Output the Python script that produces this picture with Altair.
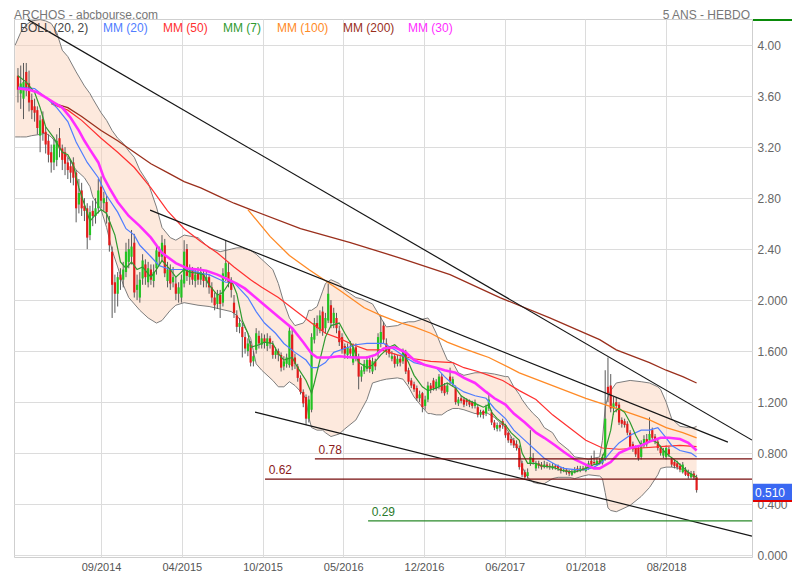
import altair as alt
import numpy as np
import pandas as pd

# ---------------- data ----------------
START = pd.Timestamp("2014-02-14")  # first weekly candle (index 0), one candle per week

OPEN = [3.76,3.62,3.58,3.79,3.70,3.57,3.52,3.49,3.29,3.42,
        3.32,3.25,3.16,3.08,3.10,3.27,3.19,3.16,3.08,3.05,
        3.08,3.00,2.75,2.86,2.74,2.72,2.51,2.70,2.66,2.72,
        2.89,2.76,2.77,2.61,2.38,2.14,2.05,2.20,2.16,2.22,
        2.30,2.34,2.45,2.08,2.02,2.17,2.28,2.14,2.24,2.15,
        2.25,2.38,2.34,2.43,2.15,2.24,2.14,2.13,2.05,2.02,
        2.13,2.40,2.18,2.24,2.15,2.22,2.16,2.20,2.15,2.18,
        2.10,2.02,1.97,2.04,1.98,2.18,2.22,2.14,1.98,1.88,
        1.79,1.79,1.71,1.60,1.65,1.52,1.61,1.72,1.65,1.70,
        1.64,1.70,1.65,1.57,1.60,1.57,1.48,1.50,1.49,1.73,
        1.55,1.48,1.39,1.28,1.24,1.07,1.14,1.69,1.82,1.76,
        1.91,1.78,1.84,1.96,1.82,1.86,1.76,1.71,1.64,1.57,
        1.62,1.51,1.63,1.55,1.40,1.44,1.46,1.53,1.44,1.52,
        1.58,1.66,1.80,1.66,1.62,1.54,1.56,1.50,1.54,1.52,
        1.59,1.45,1.37,1.34,1.31,1.23,1.27,1.17,1.22,1.33,
        1.37,1.31,1.32,1.40,1.33,1.28,1.40,1.34,1.31,1.19,
        1.23,1.22,1.22,1.21,1.20,1.17,1.16,1.10,1.13,1.11,
        1.15,1.12,1.04,0.99,1.02,1.05,1.02,0.96,0.91,0.90,
        0.87,0.84,0.72,0.65,0.62,0.72,0.76,0.68,0.72,0.71,
        0.69,0.71,0.70,0.68,0.70,0.70,0.68,0.66,0.67,0.66,
        0.63,0.65,0.68,0.66,0.68,0.66,0.68,0.74,0.73,0.71,
        0.74,0.72,0.76,1.32,1.33,1.15,1.20,1.18,1.06,1.05,
        1.03,0.96,0.87,0.84,0.84,0.77,0.86,0.91,0.90,0.98,
        0.93,0.89,0.84,0.78,0.77,0.83,0.75,0.73,0.72,0.70,
        0.65,0.67,0.65,0.61,0.64,0.61]
HIGH = [3.82,3.84,3.86,3.86,3.80,3.62,3.58,3.52,3.45,3.48,
        3.36,3.30,3.22,3.26,3.30,3.35,3.22,3.20,3.12,3.10,
        3.12,3.02,2.95,2.92,2.80,2.76,2.74,2.78,2.80,2.95,
        2.97,2.85,2.82,2.66,2.42,2.20,2.22,2.25,2.30,2.45,
        2.48,2.55,2.52,2.20,2.22,2.36,2.32,2.30,2.28,2.28,
        2.44,2.42,2.51,2.48,2.30,2.28,2.26,2.18,2.14,2.20,
        2.47,2.44,2.28,2.26,2.25,2.26,2.26,2.24,2.22,2.20,
        2.14,2.06,2.08,2.08,2.25,2.47,2.30,2.18,2.04,1.92,
        1.86,1.82,1.75,1.70,1.68,1.60,1.78,1.76,1.74,1.73,
        1.74,1.72,1.68,1.63,1.62,1.59,1.56,1.58,1.80,1.78,
        1.58,1.50,1.41,1.30,1.26,1.25,1.74,1.86,1.88,1.92,
        1.95,1.90,2.13,2.00,1.94,1.90,1.80,1.74,1.66,1.66,
        1.68,1.66,1.66,1.58,1.48,1.53,1.56,1.55,1.55,1.54,
        1.74,1.88,1.83,1.70,1.64,1.60,1.58,1.57,1.56,1.62,
        1.61,1.47,1.39,1.36,1.33,1.29,1.28,1.25,1.36,1.35,
        1.39,1.38,1.42,1.42,1.35,1.35,1.47,1.40,1.33,1.24,
        1.25,1.24,1.23,1.22,1.21,1.22,1.18,1.14,1.14,1.18,
        1.26,1.14,1.06,1.04,1.04,1.07,1.03,0.97,0.93,0.92,
        0.90,0.86,0.74,0.67,0.68,0.98,0.80,0.74,0.74,0.73,
        0.74,0.73,0.72,0.72,0.71,0.71,0.69,0.69,0.68,0.67,
        0.67,0.69,0.70,0.70,0.70,0.71,0.74,0.78,0.82,0.76,
        0.76,0.79,1.45,1.55,1.42,1.24,1.24,1.20,1.08,1.07,
        1.05,0.98,0.89,0.86,0.86,0.90,0.94,0.95,1.08,1.00,
        0.95,0.91,0.86,0.84,0.86,0.85,0.77,0.75,0.74,0.72,
        0.73,0.69,0.67,0.66,0.66,0.63]
LOW = [3.55,3.50,3.42,3.60,3.48,3.42,3.40,3.30,3.16,3.25,
       3.15,3.08,3.00,3.02,3.05,3.12,3.02,2.98,2.95,2.92,
       2.90,2.61,2.68,2.66,2.62,2.40,2.47,2.58,2.60,2.68,
       2.72,2.70,2.60,2.38,1.86,1.90,1.95,2.08,2.10,2.18,
       2.25,2.28,2.02,2.00,1.98,2.12,2.12,2.10,2.12,2.10,
       2.20,2.28,2.30,2.18,2.10,2.08,2.10,2.00,1.98,1.98,
       2.10,2.15,2.12,2.12,2.10,2.12,2.12,2.10,2.10,2.05,
       1.98,1.92,1.93,1.86,1.95,2.15,2.10,2.02,1.86,1.75,
       1.74,1.55,1.58,1.56,1.48,1.48,1.58,1.62,1.62,1.62,
       1.60,1.62,1.54,1.54,1.52,1.44,1.45,1.47,1.47,1.45,
       1.46,1.36,1.26,1.16,1.02,1.04,1.12,1.66,1.72,1.74,
       1.72,1.74,1.82,1.78,1.78,1.74,1.64,1.58,1.54,1.54,
       1.55,1.49,1.52,1.30,1.36,1.42,1.44,1.43,1.42,1.45,
       1.55,1.63,1.66,1.57,1.55,1.52,1.47,1.48,1.48,1.50,
       1.42,1.34,1.31,1.28,1.21,1.20,1.12,1.14,1.20,1.27,
       1.29,1.29,1.30,1.27,1.25,1.26,1.34,1.32,1.18,1.17,
       1.19,1.16,1.17,1.16,1.15,1.15,1.08,1.08,1.07,1.09,
       1.13,1.02,0.98,0.97,0.97,0.99,0.92,0.88,0.86,0.84,
       0.82,0.67,0.61,0.59,0.60,0.70,0.71,0.66,0.68,0.67,
       0.68,0.68,0.67,0.67,0.67,0.66,0.64,0.65,0.63,0.62,
       0.62,0.64,0.65,0.65,0.66,0.65,0.67,0.70,0.71,0.70,
       0.71,0.71,0.74,1.20,1.12,1.10,1.12,1.02,1.00,1.00,
       0.94,0.83,0.81,0.77,0.74,0.75,0.84,0.85,0.88,0.90,
       0.87,0.82,0.78,0.76,0.75,0.77,0.69,0.68,0.67,0.65,
       0.64,0.62,0.60,0.60,0.59,0.49]
CLOSE = [3.65,3.70,3.71,3.66,3.55,3.49,3.47,3.35,3.41,3.31,
         3.22,3.14,3.08,3.22,3.25,3.19,3.10,3.07,3.02,3.00,
         2.96,2.72,2.84,2.72,2.70,2.49,2.69,2.66,2.72,2.86,
         2.78,2.80,2.69,2.43,2.12,2.05,2.18,2.16,2.24,2.38,
         2.40,2.42,2.06,2.12,2.16,2.31,2.18,2.25,2.16,2.22,
         2.39,2.34,2.45,2.21,2.24,2.13,2.18,2.05,2.10,2.16,
         2.38,2.19,2.24,2.16,2.20,2.16,2.22,2.15,2.18,2.10,
         2.02,1.96,2.04,1.97,2.21,2.29,2.14,2.08,1.90,1.79,
         1.82,1.71,1.62,1.66,1.51,1.56,1.74,1.66,1.70,1.67,
         1.70,1.66,1.57,1.60,1.57,1.47,1.52,1.55,1.76,1.48,
         1.50,1.39,1.28,1.19,1.07,1.22,1.71,1.82,1.78,1.88,
         1.76,1.86,2.05,1.82,1.90,1.78,1.67,1.61,1.58,1.63,
         1.58,1.63,1.55,1.40,1.45,1.50,1.53,1.46,1.52,1.48,
         1.71,1.75,1.69,1.60,1.58,1.56,1.50,1.54,1.51,1.59,
         1.44,1.36,1.33,1.30,1.23,1.26,1.16,1.22,1.33,1.30,
         1.31,1.36,1.40,1.29,1.27,1.33,1.36,1.38,1.20,1.22,
         1.21,1.18,1.20,1.18,1.17,1.20,1.10,1.12,1.10,1.16,
         1.22,1.04,1.00,1.02,1.00,1.02,0.94,0.90,0.88,0.86,
         0.84,0.69,0.63,0.61,0.65,0.77,0.73,0.72,0.70,0.69,
         0.71,0.70,0.69,0.70,0.69,0.68,0.66,0.67,0.65,0.64,
         0.65,0.67,0.66,0.68,0.67,0.69,0.72,0.71,0.72,0.74,
         0.72,0.77,1.07,1.27,1.15,1.19,1.17,1.04,1.03,1.02,
         0.96,0.85,0.83,0.79,0.76,0.88,0.91,0.87,0.95,0.92,
         0.89,0.84,0.80,0.82,0.84,0.79,0.71,0.70,0.69,0.67,
         0.71,0.63,0.62,0.64,0.61,0.51]

# moving averages, read at selected weeks (week index, value)
MM7_IDX = [0,3,6,8,10,13,16,18,20,22,24,26,28,30,32,35,37,39,41,43,45,48,50,52,55,57,60,62,65,67,
           69,72,74,77,79,81,83,84,87,89,92,94,96,99,101,104,106,107,109,111,113,116,118,121,123,126,128,131,134,136,
           139,141,143,146,148,151,153,155,158,160,162,165,168,170,171,173,176,178,181,182,184,187,189,193,197,201,205,208,210,212,
           214,215,217,219,221,223,225,227,229,231,233,235,238,240,242,245]
MM7_VAL = [3.76,3.71,3.63,3.51,3.36,3.27,3.16,3.14,3.06,2.88,2.75,2.62,2.67,2.71,2.68,2.51,2.30,2.25,2.30,2.24,
           2.26,2.18,2.24,2.31,2.24,2.18,2.24,2.22,2.21,2.20,2.12,2.04,2.06,2.16,2.05,1.84,1.74,1.63,1.65,1.67,
           1.66,1.58,1.53,1.55,1.47,1.37,1.27,1.35,1.53,1.71,1.80,1.82,1.74,1.63,1.51,1.47,1.49,1.57,1.63,1.65,
           1.59,1.51,1.41,1.32,1.29,1.31,1.33,1.35,1.31,1.25,1.22,1.19,1.16,1.18,1.12,1.07,1.02,0.96,0.90,0.80,
           0.72,0.72,0.70,0.69,0.66,0.65,0.68,0.71,0.72,0.82,0.98,1.12,1.15,1.12,1.04,0.94,0.86,0.88,0.90,0.88,
           0.82,0.78,0.73,0.69,0.65,0.61]
MM20_IDX = [0,6,10,14,18,21,25,29,32,36,39,42,44,48,51,55,58,62,66,69,73,75,78,80,83,86,89,93,96,100,
            104,106,108,111,114,118,122,126,132,136,140,143,147,151,154,158,161,165,169,172,176,179,183,187,190,194,197,201,205,208,
            211,214,217,221,225,228,231,234,236,239,243,245]
MM20_VAL = [3.67,3.66,3.59,3.51,3.40,3.24,3.08,2.96,2.82,2.69,2.56,2.51,2.43,2.34,2.27,2.24,2.24,2.24,2.21,2.20,
            2.16,2.14,2.14,2.09,2.02,1.91,1.82,1.74,1.66,1.59,1.53,1.47,1.47,1.51,1.59,1.62,1.65,1.66,1.66,1.61,
            1.55,1.51,1.49,1.47,1.40,1.32,1.28,1.25,1.23,1.15,1.07,0.98,0.90,0.82,0.76,0.71,0.68,0.67,0.67,0.69,
            0.73,0.81,0.88,0.94,0.98,0.98,1.00,0.92,0.86,0.82,0.80,0.77]
MM30_IDX = [0,4,7,10,13,16,19,22,24,26,29,31,33,36,40,44,48,52,57,61,65,68,72,75,79,82,88,94,99,103,
            106,108,112,116,121,126,129,132,136,140,143,147,151,154,158,161,165,169,172,176,179,183,187,190,194,197,201,205,208,210,
            214,217,221,225,228,232,235,239,242,245]
MM30_VAL = [3.66,3.65,3.63,3.59,3.55,3.51,3.43,3.33,3.25,3.18,3.08,2.96,2.88,2.77,2.66,2.58,2.49,2.37,2.29,2.25,
            2.24,2.23,2.20,2.17,2.13,2.09,1.98,1.87,1.78,1.67,1.58,1.55,1.55,1.56,1.55,1.55,1.57,1.62,1.63,1.59,
            1.53,1.49,1.47,1.45,1.43,1.39,1.35,1.28,1.23,1.18,1.11,1.04,0.96,0.92,0.86,0.81,0.75,0.71,0.68,0.68,
            0.73,0.80,0.84,0.86,0.89,0.92,0.92,0.91,0.88,0.82]
MM50_IDX = [12,18,23,30,36,42,48,54,60,66,72,78,84,88,94,100,106,111,116,121,126,131,137,143,149,157,161,166,170,175,
            181,187,193,199,205,211,217,225,232,239,245]
MM50_VAL = [3.54,3.49,3.41,3.27,3.16,3.04,2.88,2.70,2.56,2.46,2.37,2.26,2.16,2.10,2.02,1.92,1.82,1.74,1.70,1.65,
            1.61,1.61,1.57,1.54,1.52,1.51,1.47,1.44,1.41,1.37,1.29,1.22,1.10,1.00,0.90,0.84,0.83,0.84,0.85,0.86,0.85]
MM100_IDX = [83,91,98,105,116,125,131,137,143,149,155,161,166,170,181,193,205,216,228,234,240,245]
MM100_VAL = [2.71,2.50,2.35,2.24,2.08,1.94,1.88,1.83,1.79,1.74,1.67,1.62,1.58,1.55,1.43,1.33,1.23,1.15,1.06,1.00,0.96,0.92]
MM200_IDX = [12,18,23,30,36,42,48,54,60,66,72,78,84,102,120,138,156,174,192,210,216,228,234,240,245]
MM200_VAL = [3.55,3.51,3.44,3.33,3.25,3.16,3.07,3.00,2.93,2.88,2.82,2.76,2.71,2.56,2.45,2.33,2.20,2.02,1.86,1.69,
             1.61,1.51,1.45,1.40,1.35]

# Bollinger (20, 2) envelope
BAND_IDX = [-1,1,3,5,8,10,12,14,16,18,21,24,26,27,30,32,34,36,38,40,42,44,47,50,52,55,57,60,65,69,
            73,77,79,81,84,86,88,92,94,96,98,100,103,104,105,106,108,110,111,113,116,118,122,124,126,128,131,133,137,139,
            141,143,146,148,149,151,153,155,157,159,161,165,169,172,176,177,179,181,182,184,186,188,190,193,195,199,201,204,206,210,
            211,212,213,214,216,221,225,228,231,232,234,236,239,242,244,245]
BAND_UP = [4.00,4.10,4.16,4.19,4.20,4.19,4.17,4.10,3.96,3.91,3.79,3.68,3.62,3.58,3.47,3.41,3.33,3.27,3.23,3.17,
           3.12,3.02,2.92,2.73,2.57,2.49,2.47,2.51,2.49,2.41,2.38,2.40,2.41,2.41,2.39,2.36,2.32,2.24,2.13,1.98,
           1.86,1.80,1.82,1.85,1.92,1.92,1.95,2.07,2.13,2.16,2.13,2.08,2.02,2.01,1.99,1.97,1.86,1.79,1.80,1.82,
           1.83,1.83,1.85,1.86,1.83,1.74,1.63,1.53,1.51,1.43,1.41,1.43,1.43,1.42,1.40,1.40,1.32,1.26,1.22,1.16,
           1.11,1.07,1.00,0.96,0.89,0.82,0.77,0.76,0.75,0.77,0.90,1.16,1.24,1.29,1.35,1.37,1.36,1.35,1.32,1.30,
           1.20,1.07,1.01,1.00,1.00,1.01]
BAND_LO = [3.28,3.28,3.28,3.29,3.30,3.31,3.28,3.23,3.17,3.12,3.02,2.96,2.89,2.81,2.71,2.57,2.39,2.26,2.12,2.02,
           1.97,1.92,1.86,1.82,1.84,1.92,1.96,1.98,1.96,1.95,1.93,1.91,1.88,1.82,1.70,1.50,1.45,1.37,1.32,1.32,
           1.36,1.33,1.26,1.22,1.08,1.00,0.98,0.98,0.96,0.93,0.95,0.99,1.06,1.14,1.22,1.35,1.37,1.38,1.39,1.38,
           1.32,1.24,1.16,1.11,1.11,1.10,1.10,1.13,1.15,1.15,1.14,1.11,1.12,1.08,1.00,0.97,0.89,0.82,0.69,0.61,
           0.57,0.56,0.56,0.60,0.61,0.61,0.60,0.62,0.63,0.62,0.60,0.49,0.37,0.35,0.34,0.39,0.46,0.53,0.63,0.68,
           0.69,0.69,0.68,0.65,0.61,0.59]

# trend lines (week index / price at both ends)
TREND_I0 = [3.6, 47.7, 85.6]
TREND_V0 = [4.20, 2.706, 1.122]
TREND_I1 = [265.0, 256.3, 265.0]
TREND_V1 = [0.902, 0.886, 0.149]

# horizontal levels
LEVEL_VAL = [0.755, 0.596, 0.268]
LEVEL_I0 = [107.2, 89.2, 126.4]
LEVEL_I1 = [265.0, 265.0, 265.0]
LEVEL_TXT = ["0.78", "0.62", "0.29"]
LEVEL_COL = ["#760c0c", "#760c0c", "#2a8a2a"]
LEVEL_TXT_COL = ["#8b1a1a", "#8b1a1a", "#2a7a2a"]

LAST_PRICE = 0.51
LAST_TXT = "0.510"

Y_TICKS = [0.0, 0.4, 0.8, 1.2, 1.6, 2.0, 2.4, 2.8, 3.2, 3.6, 4.0]
X_TICK_DATES = [(2014, 9, 12), (2015, 4, 4), (2015, 10, 25), (2016, 5, 16),
                (2016, 12, 6), (2017, 6, 28), (2018, 1, 18), (2018, 8, 10)]
X_DOMAIN = [(2014, 2, 4), (2019, 3, 15)]
Y_DOMAIN = [-0.015, 4.205]

LEGEND = [("BOLL (20, 2)", "#444444"), ("MM (20)", "#4f7dff"), ("MM (50)", "#ff3030"),
          ("MM (7)", "#2f9a2f"), ("MM (100)", "#ff8a26"), ("MM (200)", "#9a2f1c"),
          ("MM (30)", "#ff2dff")]
LEGEND_PX = [6, 89, 149, 209, 263, 329, 394]

# ---------------- helpers ----------------
def to_dates(idx):
    idx = np.asarray(idx, dtype=float)
    ts = START + pd.to_timedelta(idx * 7.0, unit="D")
    return [t.strftime("%Y-%m-%dT%H:%M:%SZ") for t in ts]

def dt(t):
    return alt.DateTime(year=t[0], month=t[1], date=t[2], utc=True)

FONT = "Liberation Sans, Arial, sans-serif"
W, H = 738, 538

X_AXIS = alt.Axis(values=[dt(t) for t in X_TICK_DATES], format="%m/%Y", grid=True,
                  gridColor="#dcdcdc", gridWidth=1, ticks=False, domain=False,
                  labelColor="#555555", labelFont=FONT, labelFontSize=11,
                  labelPadding=4, title=None, labelFlush=False)
Y_AXIS = alt.Axis(orient="right", values=Y_TICKS,
                  labelExpr="datum.value > 2.05 ? format(datum.value, '.2f') : format(datum.value, '.3f')",
                  grid=True, gridColor="#dcdcdc", gridWidth=1, ticks=False, domain=False,
                  labelColor="#666666", labelFont=FONT, labelFontSize=12,
                  labelPadding=5, title=None)
X_SCALE = alt.Scale(type="utc", domain=[dt(t) for t in X_DOMAIN], padding=0, nice=False)
Y_SCALE = alt.Scale(domain=Y_DOMAIN, nice=False, zero=False, padding=0)

def X(f):
    return alt.X(f"{f}:T", scale=X_SCALE, axis=X_AXIS, title=None)

def Y(f):
    return alt.Y(f"{f}:Q", scale=Y_SCALE, axis=Y_AXIS, title=None)

# ---------------- tables ----------------
n = len(CLOSE)
candles = pd.DataFrame({
    "date": to_dates(range(n)),
    "o": OPEN, "h": HIGH, "l": LOW, "c": CLOSE,
})
candles["bot"] = candles[["o", "c"]].min(axis=1)
candles["top"] = candles[["o", "c"]].max(axis=1)
candles["dir"] = np.where(candles["c"] >= candles["o"], "up", "down")

band = pd.DataFrame({"date": to_dates(BAND_IDX), "up": BAND_UP, "lo": BAND_LO})

def ma_df(idx, val):
    return pd.DataFrame({"date": to_dates(idx), "v": val})

trends = pd.DataFrame({"d0": to_dates(TREND_I0), "v0": TREND_V0,
                       "d1": to_dates(TREND_I1), "v1": TREND_V1})
levels = pd.DataFrame({"d0": to_dates(LEVEL_I0), "d1": to_dates(LEVEL_I1),
                       "v": LEVEL_VAL, "txt": LEVEL_TXT,
                       "dl": to_dates(np.asarray(LEVEL_I0) + 1.3)})

# ---------------- layers ----------------
layers = []

layers.append(alt.Chart(band).mark_area(color="#fbcfb3", opacity=0.45, clip=True).encode(
    x=X("date"), y=Y("up"), y2="lo"))
for f in ["up", "lo"]:
    layers.append(alt.Chart(band).mark_line(color="#7d7d7d", strokeWidth=1, clip=True).encode(
        x=X("date"), y=Y(f)))

layers.append(alt.Chart(candles).mark_rule(color="#5a5a5a", strokeWidth=1, clip=True).encode(
    x=X("date"), y=Y("l"), y2="h"))
layers.append(alt.Chart(candles).mark_bar(size=2.2, clip=True).encode(
    x=X("date"), y=Y("bot"), y2="top",
    color=alt.Color("dir:N", scale=alt.Scale(domain=["up", "down"], range=["#22c422", "#e21b1b"]),
                    legend=None)))

for idx, val, col, sw in [
    (MM200_IDX, MM200_VAL, "#9a2f1c", 1.3),
    (MM100_IDX, MM100_VAL, "#ff8a26", 1.3),
    (MM50_IDX, MM50_VAL, "#ff3030", 1.2),
    (MM20_IDX, MM20_VAL, "#4f7dff", 1.2),
    (MM7_IDX, MM7_VAL, "#2f9a2f", 1.2),
    (MM30_IDX, MM30_VAL, "#ff2dff", 2.6),
]:
    layers.append(alt.Chart(ma_df(idx, val)).mark_line(color=col, strokeWidth=sw, clip=True).encode(
        x=X("date"), y=Y("v")))

layers.append(alt.Chart(trends).mark_rule(color="#151515", strokeWidth=1.2, clip=True).encode(
    x=X("d0"), y=Y("v0"), x2="d1", y2="v1"))

for i in range(len(LEVEL_VAL)):
    sub = levels.iloc[[i]]
    layers.append(alt.Chart(sub).mark_rule(color=LEVEL_COL[i], strokeWidth=1.2, clip=True).encode(
        x=X("d0"), x2="d1", y=Y("v")))
    layers.append(alt.Chart(sub).mark_text(align="left", baseline="bottom", dy=-2, fontSize=12,
                                           font=FONT, color=LEVEL_TXT_COL[i]).encode(
        x=X("dl"), y=Y("v"), text="txt:N"))

# legend row inside the plot
for (txt, col), px in zip(LEGEND, LEGEND_PX):
    layers.append(alt.Chart(pd.DataFrame({"t": [txt]})).mark_text(
        align="left", baseline="middle", fontSize=12, font=FONT, color=col).encode(
        x=alt.value(px), y=alt.value(9), text="t:N"))

# header texts (kept inside the drawing's top edge)
layers.append(alt.Chart(pd.DataFrame({"t": ["ARCHOS - abcbourse.com"]})).mark_text(
    align="left", baseline="middle", fontSize=12, font=FONT, color="#777777").encode(
    x=alt.value(0), y=alt.value(-4.5), text="t:N"))
layers.append(alt.Chart(pd.DataFrame({"t": ["5 ANS - HEBDO"]})).mark_text(
    align="right", baseline="middle", fontSize=12, font=FONT, color="#777777").encode(
    x=alt.value(736), y=alt.value(-4.5), text="t:N"))

# last price tag on the right axis
tag = pd.DataFrame({"a": [LAST_PRICE + 0.05], "b": [LAST_PRICE - 0.08], "v": [LAST_PRICE - 0.02],
                    "r": [LAST_PRICE - 0.085], "t": [LAST_TXT]})
layers.append(alt.Chart(tag).mark_rect(color="#3a68f2").encode(
    x=alt.value(739), x2=alt.value(778), y=Y("a"), y2="b"))
layers.append(alt.Chart(tag).mark_rule(color="#e00000", strokeWidth=2).encode(
    x=alt.value(739), x2=alt.value(778), y=Y("r")))
layers.append(alt.Chart(tag).mark_text(align="left", baseline="middle", fontSize=12, font=FONT,
                                       color="white").encode(
    x=alt.value(741), y=Y("v"), text="t:N"))
layers.append(alt.Chart(pd.DataFrame({"t": [1]})).mark_rule(color="#0a8a0a", strokeWidth=2).encode(
    x=alt.value(739), x2=alt.value(778), y=alt.value(1)))

# total size 784 x 564 so the page (8px margins) holds it without shrinking
chart = alt.layer(*layers).properties(
    width=W, height=H, autosize="none",
    padding={"left": 6, "top": 11, "right": 40, "bottom": 15},
    background="white",
).configure_view(stroke="#cfcfcf", strokeWidth=1)

chart.save("out.html", embed_options={"renderer": "svg", "actions": False})
